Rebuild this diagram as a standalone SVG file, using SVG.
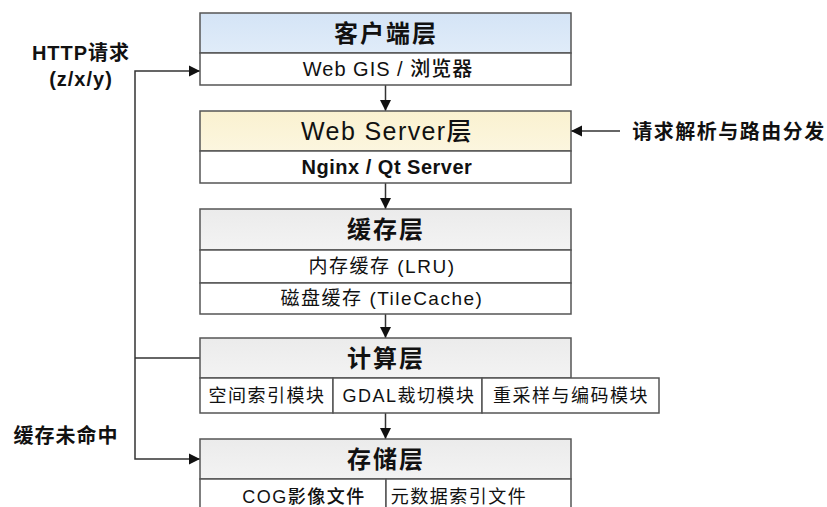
<svg xmlns="http://www.w3.org/2000/svg" width="827" height="507" viewBox="0 0 827 507">
<style>
.box{stroke:#555;stroke-width:1.5;fill:#fff}
.hdr{stroke:#555;stroke-width:1.5}
.t{font-family:"Liberation Sans","Noto Sans CJK SC",sans-serif;fill:#111;text-anchor:middle}
.h{font-size:24px;font-weight:bold;letter-spacing:2px}
.s{font-size:19px;letter-spacing:1px}
.c{font-size:18px;letter-spacing:1.5px}
.lbl{font-size:20px;font-weight:bold;letter-spacing:1px}
.ln{stroke:#333;stroke-width:1.5;fill:none}
</style>
<defs>
<marker id="ah" viewBox="0 0 12 12" refX="11" refY="6" markerWidth="12" markerHeight="12" markerUnits="userSpaceOnUse" orient="auto">
<path d="M0,0.5 L11,6 L0,11.5 Z" fill="#111"/>
</marker>
<linearGradient id="gBlue" x1="0" y1="0" x2="0" y2="1"><stop offset="0" stop-color="#d4e4f6"/><stop offset="1" stop-color="#e0ecf9"/></linearGradient>
<linearGradient id="gYel" x1="0" y1="0" x2="0" y2="1"><stop offset="0" stop-color="#faf1d0"/><stop offset="1" stop-color="#fcf6df"/></linearGradient>
<linearGradient id="gGray" x1="0" y1="0" x2="0" y2="1"><stop offset="0" stop-color="#ebebeb"/><stop offset="1" stop-color="#f3f3f3"/></linearGradient>
</defs>
<rect width="827" height="507" fill="#fff"/>

<g id="connectors">
<line class="ln" x1="385.5" y1="85" x2="385.5" y2="111" marker-end="url(#ah)"/>
<line class="ln" x1="385.5" y1="183" x2="385.5" y2="209" marker-end="url(#ah)"/>
<line class="ln" x1="385.5" y1="314" x2="385.5" y2="338" marker-end="url(#ah)"/>
<line class="ln" x1="385.5" y1="413" x2="385.5" y2="439" marker-end="url(#ah)"/>
<polyline class="ln" points="200,358 135,358"/>
<polyline class="ln" points="135,358 135,71 200,71" marker-end="url(#ah)"/>
<polyline class="ln" points="135,358 135,459 200,459" marker-end="url(#ah)"/>
<line class="ln" x1="620" y1="131" x2="571" y2="131" marker-end="url(#ah)"/>
</g>

<g id="client">
<rect class="hdr" x="200" y="13" width="371" height="40" fill="url(#gBlue)"/>
<rect class="box" x="200" y="53" width="371" height="32"/>
<text class="t h" x="386" y="42">客户端层</text>
<text class="t s" x="388" y="76" style="font-size:20px;font-weight:500">Web GIS / 浏览器</text>
</g>

<g id="webserver">
<rect class="hdr" x="200" y="111" width="371" height="40" fill="url(#gYel)"/>
<rect class="box" x="200" y="151" width="371" height="32"/>
<text class="t h" x="387" y="140" style="font-size:25px;font-weight:500;letter-spacing:1.4px">Web Server层</text>
<text class="t s" x="387" y="174" style="font-size:20px;font-weight:bold;letter-spacing:0.5px">Nginx / Qt Server</text>
</g>

<g id="cache">
<rect class="hdr" x="200" y="209" width="371" height="41" fill="url(#gGray)"/>
<rect class="box" x="200" y="250" width="371" height="33"/>
<rect class="box" x="200" y="283" width="371" height="31"/>
<text class="t h" x="386" y="238">缓存层</text>
<text class="t s" x="382" y="273" style="letter-spacing:1.5px">内存缓存 (LRU)</text>
<text class="t s" x="382" y="305" style="letter-spacing:1.5px">磁盘缓存 (TileCache)</text>
</g>

<g id="compute">
<rect class="hdr" x="200" y="338" width="371" height="40" fill="url(#gGray)"/>
<rect class="box" x="200" y="378" width="133" height="35"/>
<rect class="box" x="333" y="378" width="149" height="35"/>
<rect class="box" x="482" y="378" width="177" height="35"/>
<text class="t h" x="386" y="367">计算层</text>
<text class="t c" x="267" y="402">空间索引模块</text>
<text class="t c" x="409" y="402">GDAL裁切模块</text>
<text class="t c" x="571" y="402">重采样与编码模块</text>
</g>

<g id="storage">
<rect class="hdr" x="200" y="439" width="371" height="40" fill="url(#gGray)"/>
<rect class="box" x="200" y="479" width="186" height="40"/>
<rect class="box" x="386" y="479" width="185" height="40"/>
<text class="t h" x="386" y="468">存储层</text>
<text class="t c" x="304" y="503" style="font-weight:500">COG影像文件</text>
<text class="t c" x="459" y="503">元数据索引文件</text>
</g>

<g id="labels">
<text class="t lbl" x="81" y="60">HTTP请求</text>
<text class="t lbl" x="81" y="86">(z/x/y)</text>
<text class="t lbl" x="66" y="443">缓存未命中</text>
<text class="t lbl" x="729" y="139" style="letter-spacing:1.5px">请求解析与路由分发</text>
</g>
</svg>
